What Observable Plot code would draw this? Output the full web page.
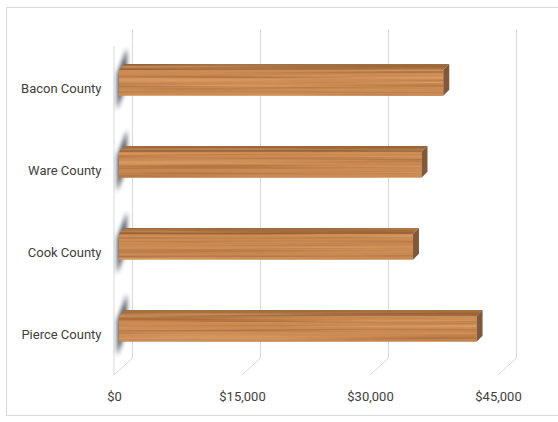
<!DOCTYPE html>
<html>
<head>
<meta charset="utf-8">
<script src="https://cdn.jsdelivr.net/npm/d3@7"></script>
<script src="https://cdn.jsdelivr.net/npm/@observablehq/plot@0.6"></script>
<style>
  html, body { margin: 0; padding: 0; background: #fff; }
  #chart svg { display: block; }
</style>
</head>
<body>
<div id="chart"></div>
<script>
// Counties and their values (dollars)
const counties = ["Bacon County", "Ware County", "Cook County", "Pierce County"];
const values = [38000, 35450, 34450, 41900];
const xTicks = [0, 15000, 30000, 45000];

const data = counties.map((county, i) => ({county, value: values[i]}));

// Depth offsets of the pseudo-3D box
const BACK = {dx: 18, dy: -16.5};
const BAR = {dx: 5, dy: -5.2};
const FACE = 6;
const M = {top: 46, bottom: 47, left: 114, right: 60};
const W = 558, H = 422;

const chart = Plot.plot({
  width: W,
  height: H,
  marginLeft: M.left,
  marginRight: M.right,
  marginTop: M.top,
  marginBottom: M.bottom,
  style: {fontFamily: "Roboto, 'Liberation Sans', sans-serif", fontSize: "13px", color: "#404040", background: "#fff"},
  x: {domain: [0, 45000]},
  y: {domain: counties, padding: 0},
  marks: [
    // gridlines on the back wall
    Plot.ruleX(xTicks, {stroke: "#d9d9d9", strokeWidth: 1, dx: BACK.dx, dy: BACK.dy}),
    // front faces of the bars
    Plot.barX(data, {x: "value", y: "county", fill: "#cc8b53", insetTop: 28.1, insetBottom: 28.1, dx: BAR.dx, dy: BAR.dy}),
    Plot.axisX({ticks: xTicks, tickFormat: d => "$" + d3.format(",")(d), tickSize: 0, tickPadding: 16, label: null, fontSize: 13}),
    Plot.axisY({tickSize: 0, tickPadding: 13, label: null, fontSize: 13})
  ]
});

document.getElementById("chart").appendChild(chart);

const svg = d3.select(chart);
const xs = chart.scale("x");
const frameTop = M.top, frameBottom = H - M.bottom;

// Filters: wood grain and soft shadow
const defs = svg.insert("defs", ":first-child");
const grain = defs.append("filter").attr("id", "wood-grain")
  .attr("x", 0).attr("y", 0).attr("width", 1).attr("height", 1)
  .attr("color-interpolation-filters", "sRGB");
grain.append("feTurbulence").attr("type", "fractalNoise")
  .attr("baseFrequency", "0.003 0.35").attr("numOctaves", 2).attr("seed", 7).attr("result", "noise");
grain.append("feColorMatrix").attr("in", "noise").attr("type", "matrix")
  .attr("values", "0 0 0 0 0.50  0 0 0 0 0.28  0 0 0 0 0.12  1.3 0 0 0 -0.60").attr("result", "dark");
grain.append("feColorMatrix").attr("in", "noise").attr("type", "matrix")
  .attr("values", "0 0 0 0 0.95  0 0 0 0 0.74  0 0 0 0 0.52  0 -1.2 0 0 0.62").attr("result", "light");
grain.append("feComposite").attr("in", "dark").attr("in2", "SourceGraphic").attr("operator", "in").attr("result", "darkIn");
grain.append("feComposite").attr("in", "light").attr("in2", "SourceGraphic").attr("operator", "in").attr("result", "lightIn");
const merge = grain.append("feMerge");
merge.append("feMergeNode").attr("in", "SourceGraphic");
merge.append("feMergeNode").attr("in", "darkIn");
merge.append("feMergeNode").attr("in", "lightIn");

defs.append("filter").attr("id", "soft").attr("x", "-50%").attr("y", "-50%").attr("width", "200%").attr("height", "200%")
  .append("feGaussianBlur").attr("stdDeviation", 2.2);

// Outer chart border
svg.insert("rect", "defs + *")
  .attr("x", 6.5).attr("y", 7.5).attr("width", 560).attr("height", 408)
  .attr("fill", "none").attr("stroke", "#d9d9d9");

// Left wall and floor edges
const frame = svg.insert("g", 'g[aria-label="bar"]').attr("stroke", "#d9d9d9").attr("fill", "none");
const x0 = xs.apply(0);
frame.append("line").attr("x1", x0).attr("x2", x0).attr("y1", frameTop).attr("y2", frameBottom);
for (const t of xTicks) {
  const x = xs.apply(t);
  frame.append("line").attr("x1", x).attr("y1", frameBottom).attr("x2", x + BACK.dx).attr("y2", frameBottom + BACK.dy);
}

// 3D faces of each bar
const barG = svg.select('g[aria-label="bar"]');
const shadowG = svg.insert("g", 'g[aria-label="bar"]').attr("transform", barG.attr("transform"));
barG.selectAll("rect").each(function() {
  const r = d3.select(this);
  const xa = +r.attr("x"), ya = +r.attr("y"), w = +r.attr("width"), h = +r.attr("height");
  const xb = xa + w, yb = ya + h;
  r.attr("filter", "url(#wood-grain)");
  shadowG.append("polygon")
    .attr("points", [[xa - 2, ya + 4], [xa + 8, ya - 22], [xa + 8, yb - 12], [xa - 2, yb + 14]].join(" "))
    .attr("fill", "#3a434d").attr("opacity", 0.85).attr("filter", "url(#soft)");
  barG.append("polygon")
    .attr("points", [[xa, ya], [xa + FACE, ya - FACE], [xb + FACE, ya - FACE], [xb, ya]].join(" "))
    .attr("fill", "#a26d3f").attr("filter", "url(#wood-grain)");
  barG.append("polygon")
    .attr("points", [[xb, ya], [xb + FACE, ya - FACE], [xb + FACE, yb - FACE], [xb, yb]].join(" "))
    .attr("fill", "#82573a");
});
</script>
</body>
</html>
